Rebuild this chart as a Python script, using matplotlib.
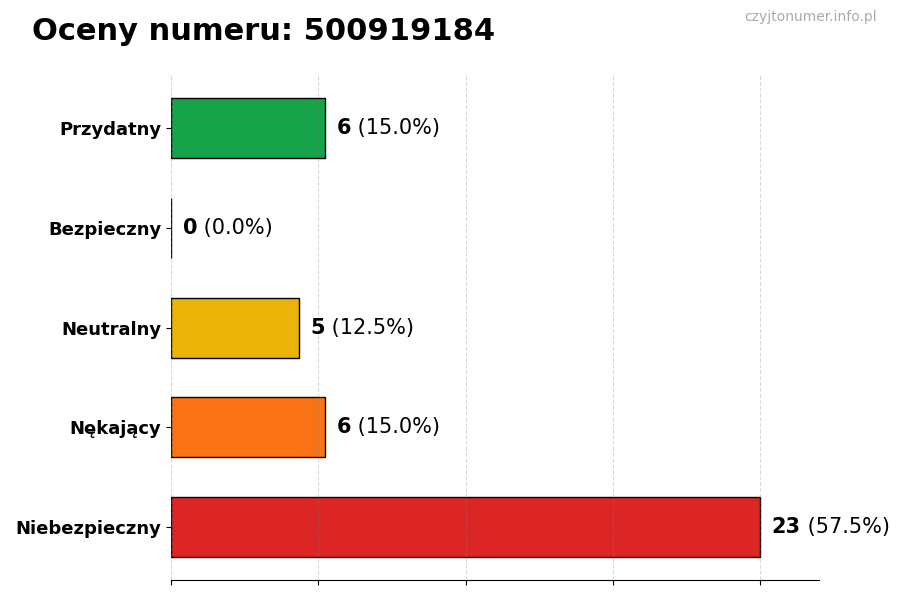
import numpy as np
import matplotlib
matplotlib.use("Agg")
import matplotlib.pyplot as plt

# Ratings for the phone number, bottom to top as drawn.
categories = ["Niebezpieczny", "Nękający", "Neutralny", "Bezpieczny", "Przydatny"]
counts = [23, 6, 5, 0, 6]
colors = ["#dc2626", "#f97316", "#eab308", "#16a34a", "#16a34a"]
title = "Oceny numeru: 500919184"
watermark = "czyjtonumer.info.pl"

total = sum(counts)
vmax = max(counts)

fig = plt.figure(figsize=(9, 6), dpi=100)
ax = fig.add_axes([0.19, 0.033, 0.72, 0.842])

y = np.arange(len(categories))
ax.barh(y, counts, height=0.6, color=colors, edgecolor="black", linewidth=1)

ax.set_yticks(y)
ax.set_yticklabels(categories, fontsize=13, fontweight="bold")
ax.set_xlim(0, vmax * 1.1)
ax.set_xticks(np.linspace(0, vmax, 5))
ax.set_xticklabels([])
ax.grid(axis="x", linestyle="--", color="gray", alpha=0.3, linewidth=0.8)

for side in ["top", "right", "left"]:
    ax.spines[side].set_visible(False)

# value label: bold count followed by normal percentage
for yi, c in zip(y, counts):
    t = ax.text(c + vmax * 0.02, yi, str(c), fontsize=15, fontweight="bold",
                va="center", ha="left")
    ax.annotate(" (%.1f%%)" % (100.0 * c / total), xy=(1, 0), xycoords=t,
                va="bottom", ha="left", fontsize=15)

fig.text(0.036, 0.948, title, fontsize=22, fontweight="bold", va="center")
fig.text(0.974, 0.971, watermark, fontsize=10, color="#aaaaaa",
         ha="right", va="center")

fig.savefig("out.png", dpi=100)
